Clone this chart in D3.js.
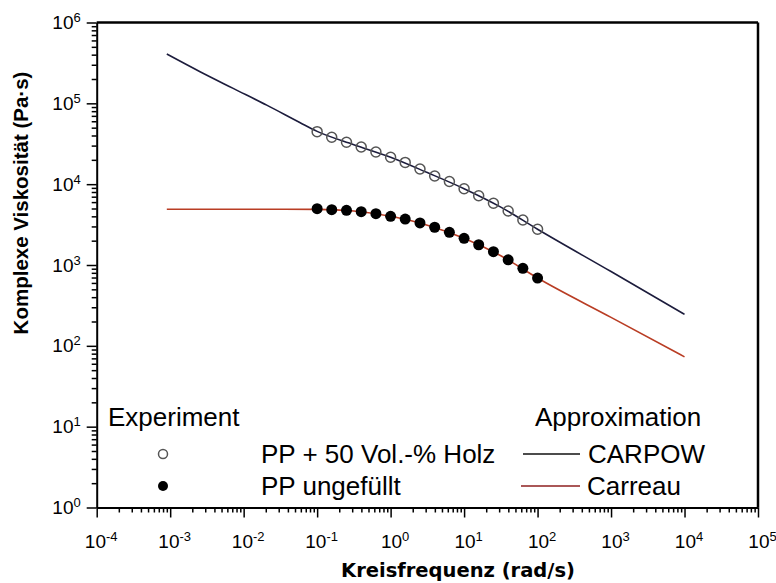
<!DOCTYPE html>
<html>
<head>
<meta charset="utf-8">
<script src="https://cdn.jsdelivr.net/npm/d3@7"></script>
<style>
  body { margin: 0; background: #fff; }
  svg { display: block; }
</style>
</head>
<body>
<div id="chart"></div>
<script>
// measured points (rad/s, Pa·s)
const omegaExp = [0.1, 0.158, 0.251, 0.398, 0.631, 1, 1.58, 2.51, 3.98, 6.31, 10, 15.8, 25.1, 39.8, 63.1, 100]
const etaHolz = [44600, 38000, 33000, 28800, 25000, 21500, 18600, 15400, 12600, 10800, 8790, 7200, 5800, 4660, 3600, 2770]
const etaPP = [4970, 4830, 4750, 4560, 4310, 4000, 3700, 3310, 2930, 2540, 2140, 1780, 1460, 1160, 910, 690]

// model curves
const carpowOmega = [0.0009, 0.00255, 0.0072, 0.0206, 0.058, 0.1, 0.316, 1, 3.16, 10, 31.6, 100, 1000, 10000]
const carpowEta = [407000, 246000, 153000, 95000, 58000, 45000, 30800, 21500, 13900, 8790, 5200, 2770, 830, 245]
const carreauOmega = [0.0009, 0.01, 0.1, 0.316, 1, 3.16, 10, 31.6, 100, 1000, 10000]
const carreauEta = [4900, 4900, 4880, 4650, 4000, 3110, 2140, 1300, 690, 225, 73]

const xExponents = [-4, -3, -2, -1, 0, 1, 2, 3, 4, 5]
const yExponents = [0, 1, 2, 3, 4, 5, 6]

const W = 776, H = 583
const colCarpow = "#1c1c3c"
const colCarreau = "#b93d24"
const tickFont = "'Liberation Sans', Arial, sans-serif"

const svg = d3.select("#chart").append("svg")
  .attr("width", W)
  .attr("height", H)

const x = d3.scaleLog().domain([1e-4, 1e5]).range([96.7, 758])
const y = d3.scaleLog().domain([1, 1e6]).range([507.5, 22.5])

const minorOf = (exps) => {
  let out = []
  exps.slice(0, -1).forEach(e => {
    for (let k = 2; k <= 9; k++) out.push(k * Math.pow(10, e))
  })
  return out
}

// superscript labels "10^n"
const powLabel = function (sel, exps) {
  sel.selectAll(".tick text").each(function (d, i) {
    const t = d3.select(this)
    t.text(null)
    t.append("tspan").text("10")
    t.append("tspan").attr("dy", -7).style("font-size", "13px").text(exps[i])
  })
}

// minor ticks
svg.append("g")
  .attr("transform", `translate(0, ${y.range()[0]})`)
  .call(d3.axisBottom(x).tickValues(minorOf(xExponents)).tickSize(5).tickSizeOuter(0).tickFormat(""))
  .call(g => g.select(".domain").remove())
  .call(g => g.selectAll("line").attr("stroke-width", 1.5))

svg.append("g")
  .attr("transform", `translate(${x.range()[0]}, 0)`)
  .call(d3.axisLeft(y).tickValues(minorOf(yExponents)).tickSize(5).tickSizeOuter(0).tickFormat(""))
  .call(g => g.select(".domain").remove())
  .call(g => g.selectAll("line").attr("stroke-width", 1.5))

// major ticks + labels
const xAxis = svg.append("g")
  .attr("transform", `translate(0, ${y.range()[0]})`)
  .call(d3.axisBottom(x).tickValues(xExponents.map(e => Math.pow(10, e))).tickSize(10).tickSizeOuter(0).tickPadding(17))
xAxis.select(".domain").attr("stroke-width", 2)
xAxis.selectAll("line").attr("stroke-width", 1.5)
xAxis.selectAll("text").style("font-family", tickFont).style("font-size", "19px").attr("fill", "#000")
powLabel(xAxis, xExponents)
xAxis.selectAll(".tick text").attr("dx", 4)

const yAxis = svg.append("g")
  .attr("transform", `translate(${x.range()[0]}, 0)`)
  .call(d3.axisLeft(y).tickValues(yExponents.map(e => Math.pow(10, e))).tickSize(10).tickSizeOuter(0).tickPadding(6))
yAxis.select(".domain").attr("stroke-width", 2)
yAxis.selectAll("line").attr("stroke-width", 1.5)
yAxis.selectAll("text").style("font-family", tickFont).style("font-size", "19px").attr("fill", "#000")
powLabel(yAxis, yExponents)

// frame top + right
svg.append("line")
  .attr("x1", x.range()[0]).attr("x2", x.range()[1])
  .attr("y1", y.range()[1]).attr("y2", y.range()[1])
  .attr("stroke", "#000").attr("stroke-width", 2.5)
svg.append("line")
  .attr("x1", x.range()[1]).attr("x2", x.range()[1])
  .attr("y1", y.range()[1]).attr("y2", y.range()[0])
  .attr("stroke", "#000").attr("stroke-width", 2.5)

// model lines
const line = d3.line()
  .x(d => x(d[0]))
  .y(d => y(d[1]))
  .curve(d3.curveMonotoneX)

svg.append("path")
  .datum(carreauOmega.map((w, i) => [w, carreauEta[i]]))
  .attr("d", line)
  .attr("fill", "none")
  .attr("stroke", colCarreau)
  .attr("stroke-width", 1.6)

svg.append("path")
  .datum(carpowOmega.map((w, i) => [w, carpowEta[i]]))
  .attr("d", line)
  .attr("fill", "none")
  .attr("stroke", colCarpow)
  .attr("stroke-width", 1.6)

// measured points
svg.append("g").selectAll("circle")
  .data(omegaExp.map((w, i) => [w, etaHolz[i]]))
  .join("circle")
    .attr("cx", d => x(d[0]))
    .attr("cy", d => y(d[1]))
    .attr("r", 5)
    .attr("fill", "none")
    .attr("stroke", "#555")
    .attr("stroke-width", 1.5)

svg.append("g").selectAll("circle")
  .data(omegaExp.map((w, i) => [w, etaPP[i]]))
  .join("circle")
    .attr("cx", d => x(d[0]))
    .attr("cy", d => y(d[1]))
    .attr("r", 5.5)
    .attr("fill", "#000")

// axis titles
svg.append("text")
  .attr("x", 458)
  .attr("y", 577)
  .attr("text-anchor", "middle")
  .style("font-family", "'DejaVu Sans', Verdana, sans-serif")
  .style("font-weight", "bold")
  .style("font-size", "19.5px")
  .text("Kreisfrequenz (rad/s)")

svg.append("text")
  .attr("transform", "translate(28, 203) rotate(-90)")
  .attr("text-anchor", "middle")
  .style("font-family", "'Liberation Sans', Arial, sans-serif")
  .style("font-weight", "bold")
  .style("font-size", "20.5px")
  .text("Komplexe Viskosität (Pa·s)")

// legend
const leg = svg.append("g")
  .style("font-family", "'Liberation Sans', Arial, sans-serif")
  .style("font-size", "26px")

leg.append("text").attr("x", 108).attr("y", 426).text("Experiment")
leg.append("text").attr("x", 535).attr("y", 426).text("Approximation")

leg.append("circle").attr("cx", 163).attr("cy", 454).attr("r", 4.5)
  .attr("fill", "none").attr("stroke", "#555").attr("stroke-width", 1.5)
leg.append("circle").attr("cx", 163).attr("cy", 486).attr("r", 5).attr("fill", "#000")
leg.append("text").attr("x", 261).attr("y", 463).text("PP + 50 Vol.-% Holz")
leg.append("text").attr("x", 261).attr("y", 495).text("PP ungefüllt")

leg.append("line").attr("x1", 523).attr("x2", 580).attr("y1", 454).attr("y2", 454)
  .attr("stroke", "#111").attr("stroke-width", 1.6)
leg.append("line").attr("x1", 521).attr("x2", 580).attr("y1", 486).attr("y2", 486)
  .attr("stroke", "#8e1f1f").attr("stroke-width", 1.6)
leg.append("text").attr("x", 588).attr("y", 463).text("CARPOW")
leg.append("text").attr("x", 587).attr("y", 495).text("Carreau")
</script>
</body>
</html>
